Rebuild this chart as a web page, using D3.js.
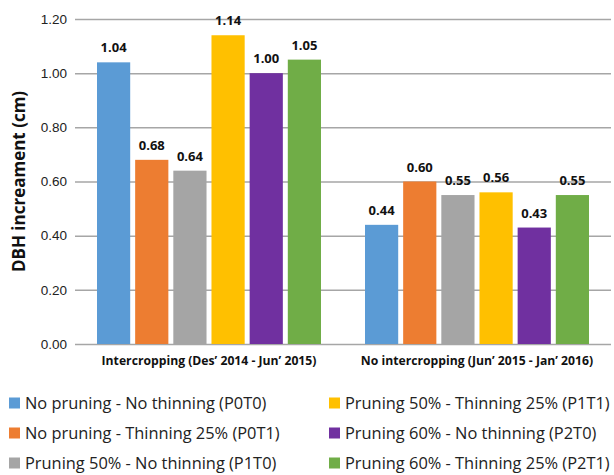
<!DOCTYPE html>
<html>
<head>
<meta charset="utf-8">
<script src="https://cdn.jsdelivr.net/npm/d3@7"></script>
<style>
  html, body { margin: 0; padding: 0; background: #fff; }
  svg { display: block; font-family: "Open Sans", "Noto Sans", sans-serif; }
</style>
</head>
<body>
<svg id="chart" width="614" height="475"></svg>
<script>
// Periods (x categories)
const periods = [
  "Intercropping (Des\u2019 2014 - Jun\u2019 2015)",
  "No intercropping (Jun\u2019 2015 - Jan\u2019 2016)"
];

// Treatments (series)
const treatments = [
  "No pruning - No thinning (P0T0)",
  "No pruning - Thinning 25% (P0T1)",
  "Pruning 50% - No thinning (P1T0)",
  "Pruning 50% - Thinning 25% (P1T1)",
  "Pruning 60% - No thinning (P2T0)",
  "Pruning 60% - Thinning 25% (P2T1)"
];

// DBH increment (cm) per treatment, one value per period
const p0t0 = [1.04, 0.44];
const p0t1 = [0.68, 0.60];
const p1t0 = [0.64, 0.55];
const p1t1 = [1.14, 0.56];
const p2t0 = [1.00, 0.43];
const p2t1 = [1.05, 0.55];

const yTicks = [0, 0.2, 0.4, 0.6, 0.8, 1.0, 1.2];
const colors = ["#5B9BD5", "#ED7D31", "#A5A5A5", "#FFC000", "#7030A0", "#70AD47"];

const seriesValues = [p0t0, p0t1, p1t0, p1t1, p2t0, p2t1];

const svg = d3.select("#chart");
const margin = { left: 75, right: 3, top: 19, plotBottom: 344 };

const x0 = d3.scaleBand()
  .domain(periods)
  .range([margin.left, 614 - margin.right])
  .padding(0);

const x1 = d3.scaleBand()
  .domain(treatments)
  .range([22, x0.bandwidth() - 22])
  .paddingInner(0.13)
  .paddingOuter(0);

const y = d3.scaleLinear()
  .domain([0, 1.2])
  .range([margin.plotBottom, margin.top]);

const color = d3.scaleOrdinal().domain(treatments).range(colors);

// Horizontal gridlines + y tick labels
const yAxis = d3.axisLeft(y)
  .tickValues(yTicks)
  .tickFormat(d3.format(".2f"))
  .tickSize(-(x0.range()[1] - margin.left))
  .tickPadding(8);

const gy = svg.append("g")
  .attr("transform", `translate(${margin.left},0)`)
  .call(yAxis);
gy.select(".domain").remove();
gy.selectAll(".tick line")
  .attr("stroke", "#a6a6a6")
  .attr("stroke-width", 1.5);
gy.selectAll(".tick text")
  .attr("fill", "#222")
  .style("font-size", "13.5px");

// Y axis title
svg.append("text")
  .attr("transform", `translate(25,${(margin.top + margin.plotBottom) / 2}) rotate(-90)`)
  .attr("text-anchor", "middle")
  .attr("font-weight", "bold")
  .attr("fill", "#111")
  .style("font-size", "17px")
  .text("DBH increament (cm)");

// Bars
const rows = [];
periods.forEach((p, pi) => {
  treatments.forEach((t, ti) => {
    rows.push({ period: p, treatment: t, value: seriesValues[ti][pi] });
  });
});

svg.append("g").selectAll("rect")
  .data(rows)
  .join("rect")
  .attr("x", d => x0(d.period) + x1(d.treatment))
  .attr("y", d => y(d.value))
  .attr("width", x1.bandwidth())
  .attr("height", d => y(0) - y(d.value))
  .attr("fill", d => color(d.treatment));

// Value labels
svg.append("g").selectAll("text")
  .data(rows)
  .join("text")
  .attr("x", d => x0(d.period) + x1(d.treatment) + x1.bandwidth() / 2)
  .attr("y", d => y(d.value) - 10)
  .attr("text-anchor", "middle")
  .attr("font-weight", "bold")
  .attr("fill", "#111")
  .style("font-size", "13px")
  .text(d => d3.format(".2f")(d.value));

// Category labels
svg.append("g").selectAll("text")
  .data(periods)
  .join("text")
  .attr("x", d => x0(d) + x0.bandwidth() / 2)
  .attr("y", 365)
  .attr("text-anchor", "middle")
  .attr("font-weight", "bold")
  .attr("fill", "#111")
  .style("font-size", "12.2px")
  .text(d => d);

// Legend: two columns, three rows
const legend = svg.append("g").selectAll("g")
  .data(treatments)
  .join("g")
  .attr("transform", (d, i) => {
    const col = Math.floor(i / 3), row = i % 3;
    return `translate(${col === 0 ? 9 : 329},${403 + row * 30})`;
  });

legend.append("rect")
  .attr("x", 0)
  .attr("y", -5.5)
  .attr("width", 11)
  .attr("height", 11)
  .attr("fill", d => color(d));

legend.append("text")
  .attr("x", 16)
  .attr("y", 0)
  .attr("dy", "0.35em")
  .attr("fill", "#222")
  .style("font-size", "16.4px")
  .text(d => d);
</script>
</body>
</html>
